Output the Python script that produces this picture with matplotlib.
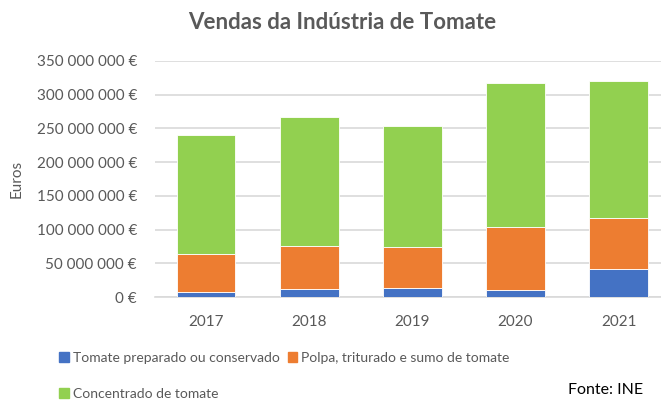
import matplotlib
matplotlib.use("Agg")
import matplotlib.pyplot as plt
from matplotlib.patches import Patch
from matplotlib.ticker import FuncFormatter

plt.rcParams['font.family'] = ['Lato', 'DejaVu Sans']

anos = ['2017', '2018', '2019', '2020', '2021']
tomate_preparado = [7.4e6, 12.7e6, 14.2e6, 10.8e6, 41.4e6]
polpa = [57.1e6, 63.6e6, 60.7e6, 92.8e6, 76.4e6]
concentrado = [176.0e6, 190.4e6, 178.5e6, 214.4e6, 203.2e6]

series = ['Tomate preparado ou conservado', 'Polpa, triturado e sumo de tomate',
          'Concentrado de tomate']
cores = ['#4472C4', '#ED7D31', '#92D050']
texto = '#595959'


def euros(v, pos):
    return '{:,.0f}'.format(v).replace(',', ' ') + ' €'


fig = plt.figure(figsize=(6.61, 4.0), dpi=100)
ax = fig.add_axes([0.2345, 0.257, 0.7655, 0.5905])

x = range(len(anos))
base = [0] * len(anos)
for vals, cor, nome in zip([tomate_preparado, polpa, concentrado], cores, series):
    ax.bar(x, vals, bottom=base, width=0.57, color=cor, edgecolor='white',
           linewidth=0.6, label=nome, zorder=3)
    base = [b + v for b, v in zip(base, vals)]

ax.set_ylim(0, 350e6)
ax.set_xlim(-0.495, 4.41)
ax.set_yticks(range(0, 350000001, 50000000))
ax.yaxis.set_major_formatter(FuncFormatter(euros))
ax.set_xticks(list(x))
ax.set_xticklabels(anos)
ax.grid(axis='y', color='#D9D9D9', linewidth=1.2, zorder=0)
for s in ['top', 'right', 'left']:
    ax.spines[s].set_visible(False)
ax.spines['bottom'].set_color('#D9D9D9')
ax.spines['bottom'].set_linewidth(1.2)
ax.tick_params(length=0, labelsize=11, colors=texto)
ax.tick_params(axis='y', pad=13)
ax.tick_params(axis='x', pad=13)
ax.set_ylabel('Euros', fontsize=11, color=texto)
ax.yaxis.set_label_coords(-0.26, 0.5)

fig.text(0.517, 0.943, 'Vendas da Indústria de Tomate', ha='center', va='center',
         fontsize=16, fontweight='bold', color=texto)

handles = [Patch(color=cores[0]), Patch(color=cores[2]), Patch(color=cores[1])]
labels = [series[0], series[2], series[1]]
leg = fig.legend(handles, labels, ncol=2, loc='upper left',
                 bbox_to_anchor=(0.09, 0.12), bbox_transform=fig.transFigure,
                 frameon=False, fontsize=10, handlelength=0.65, handleheight=0.75,
                 handletextpad=0.3, columnspacing=0.6, labelspacing=1.7,
                 borderaxespad=0, borderpad=0)
for t in leg.get_texts():
    t.set_color(texto)

fig.text(0.973, 0.025, 'Fonte: INE', ha='right', va='center', fontsize=11.5, color='black')

fig.savefig('out.png', dpi=100)
